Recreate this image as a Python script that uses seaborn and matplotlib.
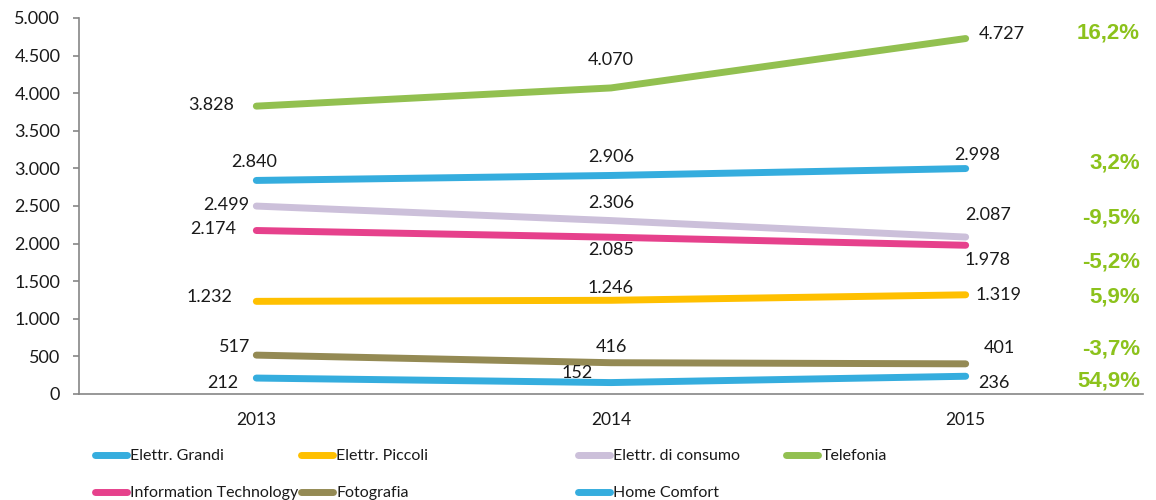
import numpy as np
import pandas as pd
import matplotlib
matplotlib.use("Agg")
import matplotlib.pyplot as plt
from matplotlib.lines import Line2D
import seaborn as sns

# ---- data ----
years = ["2013", "2014", "2015"]
series_names = ["Elettr. Grandi", "Elettr. Piccoli", "Elettr. di consumo", "Telefonia",
                "Information Technology", "Fotografia", "Home Comfort"]
elettr_grandi = [2840, 2906, 2998]
elettr_piccoli = [1232, 1246, 1319]
elettr_consumo = [2499, 2306, 2087]
telefonia = [3828, 4070, 4727]
info_tech = [2174, 2085, 1978]
fotografia = [517, 416, 401]
home_comfort = [212, 152, 236]
pct_change = ["3,2%", "5,9%", "-9,5%", "16,2%", "-5,2%", "-3,7%", "54,9%"]
y_ticks = [0, 500, 1000, 1500, 2000, 2500, 3000, 3500, 4000, 4500, 5000]

values = [elettr_grandi, elettr_piccoli, elettr_consumo, telefonia, info_tech, fotografia, home_comfort]
colors = ["#35ADDE", "#FFC000", "#CCC0DA", "#92C050", "#E6418C", "#948A54", "#35ADDE"]

rows = []
for name, vals in zip(series_names, values):
    for yr, v in zip(years, vals):
        rows.append({"year": yr, "value": v, "series": name})
df = pd.DataFrame(rows)
palette = dict(zip(series_names, colors))

# ---- label offsets (pixels) and alignment, per series per point ----
lab_style = {
    "Elettr. Grandi": [(-2, 18, "center"), (0, 18, "center"), (12, 14, "center")],
    "Elettr. Piccoli": [(-24, 4, "right"), (0, 12, "center"), (10, 0, "left")],
    "Elettr. di consumo": [(-7, 1, "right"), (0, 18, "center"), (22, 22, "center")],
    "Telefonia": [(-22, 1, "right"), (0, 28, "center"), (13, 5, "left")],
    "Information Technology": [(-20, 2, "right"), (0, -13, "center"), (22, -15, "center")],
    "Fotografia": [(-6, 8, "right"), (0, 16, "center"), (34, 16, "center")],
    "Home Comfort": [(-18, -5, "right"), (-34, 10, "center"), (28, -7, "center")],
}
pct_dy = {"Elettr. Grandi": 6, "Elettr. Piccoli": -2, "Elettr. di consumo": 19, "Telefonia": 6,
          "Information Technology": -17, "Fotografia": 15, "Home Comfort": -5}

sns.set_style("white")
plt.rcParams["font.family"] = ["Lato", "DejaVu Sans"]

fig = plt.figure(figsize=(11.56, 5.0), dpi=100)
ax = fig.add_axes([79 / 1156, 1 - 394 / 500, 1064 / 1156, 376 / 500])

sns.lineplot(data=df, x="year", y="value", hue="series", hue_order=series_names,
             palette=palette, linewidth=5, legend=False, sort=False, ax=ax,
             solid_capstyle="round")

def fmt(v):
    return f"{v:,}".replace(",", ".")

for name, vals in zip(series_names, values):
    for i, v in enumerate(vals):
        dx, dy, ha = lab_style[name][i]
        ax.annotate(fmt(v), xy=(i, v), xytext=(dx, dy), textcoords="offset pixels",
                    ha=ha, va="center", fontsize=13, color="#1a1a1a")
    ax.annotate(pct_change[series_names.index(name)], xy=(1 - 3 / 1064, vals[-1]),
                xycoords=("axes fraction", "data"), xytext=(0, pct_dy[name]),
                textcoords="offset pixels", ha="right", va="center",
                fontsize=16, fontweight="bold", color="#8CC21C",
                family=["Liberation Sans", "DejaVu Sans"])

ax.set_xlim(-0.5, 2.5)
ax.set_ylim(0, 5000)
ax.set_yticks(y_ticks)
ax.set_yticklabels([fmt(t) for t in y_ticks], fontsize=13, color="#1a1a1a")
ax.set_xticks([0, 1, 2])
ax.set_xticklabels(years, fontsize=12.5, color="#1a1a1a")
ax.set_xticks([-0.5, 0.5, 1.5, 2.5], minor=True)
ax.tick_params(axis="x", which="major", length=0, pad=13)
ax.tick_params(axis="x", which="minor", length=4.5, width=1.2, color="#868686", direction="out")
ax.tick_params(axis="y", length=4.5, width=1.2, color="#868686", direction="out", pad=9, left=True)
ax.set_xlabel("")
ax.set_ylabel("")
for s in ["top", "right"]:
    ax.spines[s].set_visible(False)
for s in ["left", "bottom"]:
    ax.spines[s].set_color("#868686")
    ax.spines[s].set_linewidth(1.2)
ax.grid(False)

# ---- legend (Excel-like fixed positions) ----
leg_x = [94.5, 300.5, 577.5, 785.5]
leg_y = [456, 493]
for k, (name, col) in enumerate(zip(series_names, colors)):
    r, c = divmod(k, 4)
    h = Line2D([], [], color=col, linewidth=5, solid_capstyle="round")
    fig.legend(handles=[h], labels=[name], loc="center left",
               bbox_to_anchor=(leg_x[c] / 1156, 1 - leg_y[r] / 500),
               frameon=False, borderpad=0, borderaxespad=0, handlelength=2.05,
               handletextpad=0.2, prop={"size": 11.5}, labelcolor="#1a1a1a")

fig.savefig("out.png", dpi=100)
